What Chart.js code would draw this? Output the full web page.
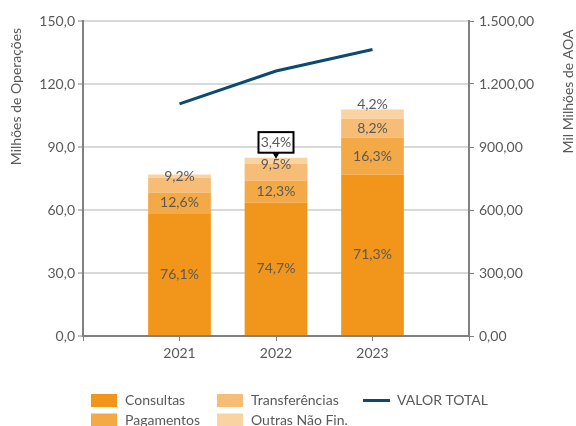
<!DOCTYPE html>
<html><head><meta charset="utf-8">
<script src="https://cdn.jsdelivr.net/npm/chart.js@4/dist/chart.umd.min.js"></script>
<style>html,body{margin:0;padding:0;background:#fff}#wrap{width:576px;height:426px;position:relative}</style>
</head><body><div id="wrap"><canvas id="c"></canvas></div>
<script>
// ---- data ----
const years = ['2021', '2022', '2023'];
const consultas = [58.5, 63.5, 76.9];
const pagamentos = [9.7, 10.4, 17.6];
const transferencias = [7.1, 8.1, 8.9];
const outras = [1.6, 2.9, 4.5];
const valorTotal = [1105, 1262, 1364];
const consultasPct = [76.1, 74.7, 71.3];
const pagamentosPct = [12.6, 12.3, 16.3];
const transferenciasPct = [9.2, 9.5, 8.2];
const outrasPct = [null, 3.4, 4.2];      // 2021 label not shown
const leftTicks = [0, 30, 60, 90, 120, 150];
const rightTicks = [0, 300, 600, 900, 1200, 1500];
const seriesNames = ['Consultas', 'Pagamentos', 'Transferências', 'Outras Não Fin.', 'VALOR TOTAL'];
const axisTitles = ['Milhões de Operações', 'Mil Milhões de AOA'];

// ---- helpers ----
function fmt(v, d) {
  const s = v.toFixed(d).split('.');
  const int = s[0].replace(/\B(?=(\d{3})+(?!\d))/g, '.');
  return d > 0 ? int + ',' + s[1] : int;
}
const pad = a => [null, ...a, null];
const labels = ['', ...years, ''];

const TXT = '#595959';
const FONT = 'Lato';
Chart.defaults.font.family = FONT;
Chart.defaults.font.size = 14;
Chart.defaults.color = TXT;

const colors = ['#F2961B', '#F4A947', '#F7BD76', '#FAD3A2'];

const labelPlugin = {
  id: 'segLabels',
  afterDatasetsDraw(chart, args, opts) {
    const ctx = chart.ctx;
    ctx.save();
    ctx.font = '14px ' + FONT;
    ctx.fillStyle = TXT;
    ctx.textAlign = 'center';
    ctx.textBaseline = 'middle';
    opts.pcts.forEach((arr, di) => {
      const meta = chart.getDatasetMeta(di);
      arr.forEach((p, i) => {
        if (p == null) return;
        const el = meta.data[i + 1];
        if (!el) return;
        const txt = fmt(p, 1) + '%';
        const cx = el.x;
        let cy = (el.y + el.base) / 2 + ((opts.dy[di] || [])[i] || 0);
        const call = opts.callout.find(c => c.ds === di && c.idx === i);
        if (call) {
          const bx = cx - 17.5, by = el.y - 25.6, bw = 35, bh = 20.6;
          ctx.fillStyle = '#fff';
          ctx.fillRect(bx, by, bw, bh);
          ctx.strokeStyle = '#000';
          ctx.lineWidth = 2;
          ctx.strokeRect(bx, by, bw, bh);
          ctx.fillStyle = '#000';
          ctx.beginPath();
          ctx.moveTo(cx - 3.5, by + bh);
          ctx.lineTo(cx + 3.5, by + bh);
          ctx.lineTo(cx, el.y + 1);
          ctx.closePath();
          ctx.fill();
          ctx.fillStyle = TXT;
          ctx.fillText(txt, cx, by + bh / 2 + 0.5);
        } else {
          ctx.fillText(txt, cx, cy);
        }
      });
    });
    ctx.restore();
  },
  afterDraw(chart, args, opts) {
    const ctx = chart.ctx;
    ctx.save();
    ctx.font = '14px ' + FONT;
    ctx.fillStyle = TXT;
    ctx.textAlign = 'center';
    ctx.textBaseline = 'middle';
    // axis titles (both read bottom-to-top)
    opts.titles.forEach(t => {
      ctx.save();
      ctx.translate(t.x, t.y);
      ctx.rotate(-Math.PI / 2);
      ctx.fillText(t.text, 0, 0);
      ctx.restore();
    });
    // legend
    ctx.textAlign = 'left';
    opts.legend.forEach(it => {
      const ds = chart.data.datasets[it.ds];
      if (ds.type === 'line') {
        ctx.strokeStyle = ds.borderColor;
        ctx.lineWidth = 3;
        ctx.beginPath();
        ctx.moveTo(it.x, it.y);
        ctx.lineTo(it.x + 27, it.y);
        ctx.stroke();
      } else {
        ctx.fillStyle = ds.backgroundColor;
        ctx.fillRect(it.x, it.y - 6.5, 26, 13);
      }
      ctx.fillStyle = TXT;
      ctx.fillText(ds.label, it.x + 34, it.y);
    });
    ctx.restore();
  }
};

new Chart(document.getElementById('c'), {
  type: 'bar',
  data: {
    labels: labels,
    datasets: [
      { label: seriesNames[0], data: pad(consultas), backgroundColor: colors[0], yAxisID: 'y', order: 1 },
      { label: seriesNames[1], data: pad(pagamentos), backgroundColor: colors[1], yAxisID: 'y', order: 1 },
      { label: seriesNames[2], data: pad(transferencias), backgroundColor: colors[2], yAxisID: 'y', order: 1 },
      { label: seriesNames[3], data: pad(outras), backgroundColor: colors[3], yAxisID: 'y', order: 1 },
      { type: 'line', label: seriesNames[4], data: pad(valorTotal), borderColor: '#0D4A70', borderWidth: 3,
        pointRadius: 0, yAxisID: 'y1', order: 0, fill: false, tension: 0 }
    ]
  },
  options: {
    responsive: true,
    maintainAspectRatio: false,
    animation: false,
    events: [],
    layout: { padding: { top: 21, bottom: 0, left: 0, right: 0 } },
    datasets: { bar: { categoryPercentage: 0.65, barPercentage: 1 } },
    plugins: {
      legend: { display: false },
      tooltip: { enabled: false },
      segLabels: {
        pcts: [consultasPct, pagamentosPct, transferenciasPct, outrasPct],
        dy: [[0, 0, 0], [0, 0, 0], [-9, -8, 0], [0, 0, -9.5]],
        callout: [{ ds: 3, idx: 1 }],
        titles: [
          { text: axisTitles[0], x: 16, y: 96.5 },
          { text: axisTitles[1], x: 568, y: 91.5 }
        ],
        legend: [
          { ds: 0, x: 91, y: 400.5 },
          { ds: 1, x: 91, y: 420 },
          { ds: 2, x: 217, y: 400.5 },
          { ds: 3, x: 217, y: 420 },
          { ds: 4, x: 363, y: 400.5 }
        ]
      }
    },
    scales: {
      x: {
        stacked: true,
        offset: false,
        grid: { offset: false, drawOnChartArea: false, drawTicks: true, tickLength: 5, color: '#808080', lineWidth: 1 },
        border: { display: true, color: '#808080', width: 2 },
        ticks: { padding: 4, autoSkip: false, maxRotation: 0, color: TXT, font: { size: 14 } },
        afterFit: s => { s.height = 90; }
      },
      y: {
        position: 'left',
        stacked: true,
        min: 0, max: 150,
        afterBuildTicks: s => { s.ticks = leftTicks.map(v => ({ value: v })); },
        ticks: { callback: v => fmt(v, 1), padding: 3, color: TXT, font: { size: 14 } },
        grid: { color: '#D9D9D9', lineWidth: 2, drawTicks: true, tickLength: 5, tickColor: '#808080', tickWidth: 1 },
        border: { display: true, color: '#808080', width: 2 },
        afterFit: s => { s.width = 83; }
      },
      y1: {
        position: 'right',
        min: 0, max: 1500,
        afterBuildTicks: s => { s.ticks = rightTicks.map(v => ({ value: v })); },
        ticks: { callback: v => fmt(v, 2), padding: 5, color: TXT, font: { size: 14 } },
        grid: { drawOnChartArea: false, drawTicks: true, tickLength: 5, tickColor: '#808080', tickWidth: 1 },
        border: { display: true, color: '#808080', width: 2 },
        afterFit: s => { s.width = 107; }
      }
    }
  },
  plugins: [labelPlugin]
});
</script>
</body></html>
